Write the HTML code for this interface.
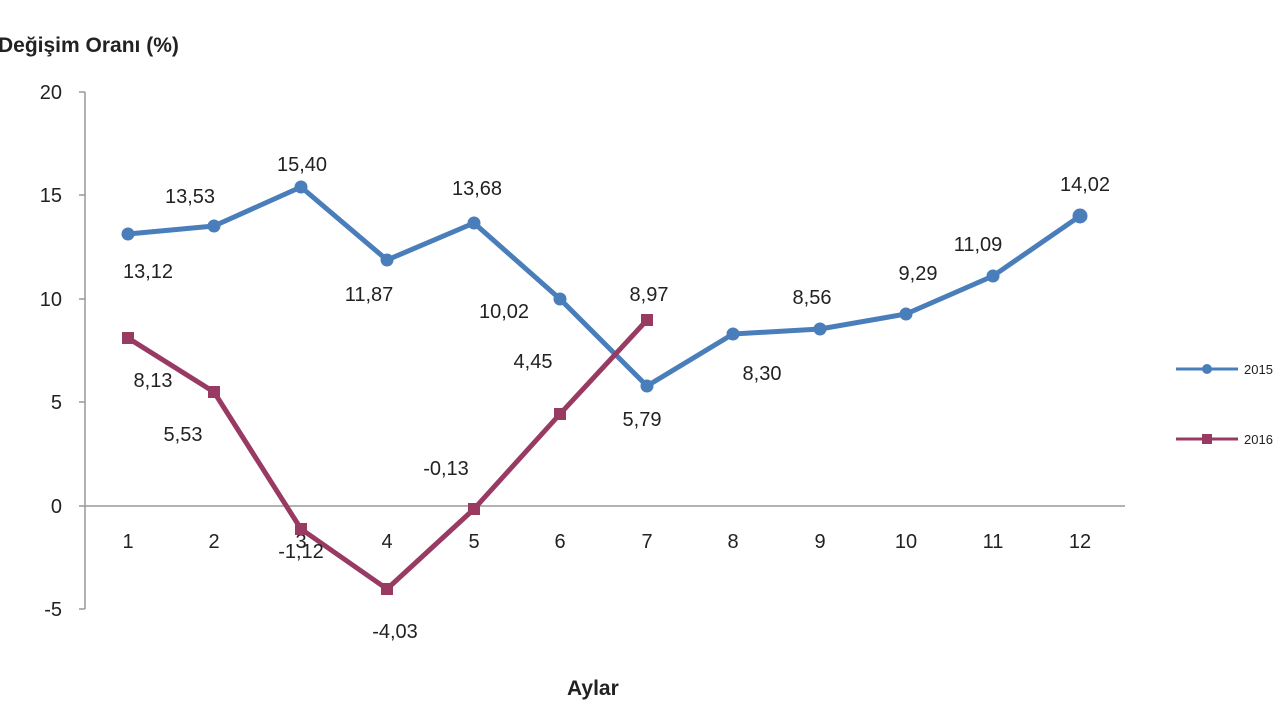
<!DOCTYPE html>
<html><head><meta charset="utf-8"><style>
body{margin:0;background:#fff;}
svg text{font-family:"Liberation Sans",Arial,sans-serif;fill:#222;}
</style></head><body>
<svg width="1280" height="720" viewBox="0 0 1280 720">
<text x="-2" y="52" font-size="21" font-weight="bold">Değişim Oranı (%)</text>
<text x="567" y="695" font-size="21" font-weight="bold">Aylar</text>
<g stroke="#999" stroke-width="1.5">
<line x1="85" y1="92" x2="85" y2="609"/>
<line x1="85" y1="506" x2="1125" y2="506"/>
<line x1="79" y1="92" x2="85" y2="92"/><line x1="79" y1="195" x2="85" y2="195"/>
<line x1="79" y1="299" x2="85" y2="299"/><line x1="79" y1="402" x2="85" y2="402"/>
<line x1="79" y1="506" x2="85" y2="506"/><line x1="79" y1="609" x2="85" y2="609"/>
</g>
<g font-size="20" text-anchor="end">
<text x="62" y="99">20</text><text x="62" y="202">15</text><text x="62" y="306">10</text>
<text x="62" y="409">5</text><text x="62" y="513">0</text><text x="62" y="616">-5</text>
</g>
<g font-size="20" text-anchor="middle">
<text x="128" y="548">1</text><text x="214" y="548">2</text><text x="301" y="548">3</text>
<text x="387" y="548">4</text><text x="474" y="548">5</text><text x="560" y="548">6</text>
<text x="647" y="548">7</text><text x="733" y="548">8</text><text x="820" y="548">9</text>
<text x="906" y="548">10</text><text x="993" y="548">11</text><text x="1080" y="548">12</text>
</g>
<polyline fill="none" stroke="#4a7ebb" stroke-width="5" stroke-linejoin="round" points="128,234 214,226 301,187 387,260 474,223 560,299 647,386 733,334 820,329 906,314 993,276 1080,216"/>
<g fill="#4a7ebb">
<circle cx="128" cy="234" r="6.5"/><circle cx="214" cy="226" r="6.5"/><circle cx="301" cy="187" r="6.5"/>
<circle cx="387" cy="260" r="6.5"/><circle cx="474" cy="223" r="6.5"/><circle cx="560" cy="299" r="6.5"/>
<circle cx="647" cy="386" r="6.5"/><circle cx="733" cy="334" r="6.5"/><circle cx="820" cy="329" r="6.5"/>
<circle cx="906" cy="314" r="6.5"/><circle cx="993" cy="276" r="6.5"/><circle cx="1080" cy="216" r="7.5"/>
</g>
<polyline fill="none" stroke="#983a62" stroke-width="5" stroke-linejoin="round" points="128,338 214,392 301,529 387,589 474,509 560,414 647,320"/>
<g fill="#983a62">
<rect x="122" y="332" width="12" height="12"/><rect x="208" y="386" width="12" height="12"/>
<rect x="295" y="523" width="12" height="12"/><rect x="381" y="583" width="12" height="12"/>
<rect x="468" y="503" width="12" height="12"/><rect x="554" y="408" width="12" height="12"/>
<rect x="641" y="314" width="12" height="12"/>
</g>
<g font-size="20" text-anchor="middle">
<text x="148" y="278">13,12</text><text x="190" y="203">13,53</text><text x="302" y="171">15,40</text>
<text x="369" y="301">11,87</text><text x="477" y="195">13,68</text><text x="504" y="318">10,02</text>
<text x="642" y="426">5,79</text><text x="762" y="380">8,30</text><text x="812" y="304">8,56</text>
<text x="918" y="280">9,29</text><text x="978" y="251">11,09</text><text x="1085" y="191">14,02</text>
<text x="153" y="387">8,13</text><text x="183" y="441">5,53</text><text x="301" y="558">-1,12</text>
<text x="395" y="638">-4,03</text><text x="446" y="475">-0,13</text><text x="533" y="368">4,45</text>
<text x="649" y="301">8,97</text>
</g>
<line x1="1176" y1="369" x2="1238" y2="369" stroke="#4a7ebb" stroke-width="3"/>
<circle cx="1207" cy="369" r="5" fill="#4a7ebb"/>
<text x="1244" y="374" font-size="13">2015</text>
<line x1="1176" y1="439" x2="1238" y2="439" stroke="#983a62" stroke-width="3"/>
<rect x="1202" y="434" width="10" height="10" fill="#983a62"/>
<text x="1244" y="444" font-size="13">2016</text>
</svg>
</body></html>
